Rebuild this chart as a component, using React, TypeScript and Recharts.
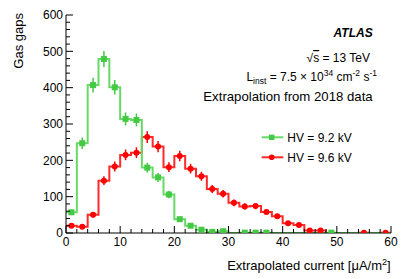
import {
  ComposedChart,
  Line,
  Scatter,
  ErrorBar,
  XAxis,
  YAxis,
  Legend,
  Customized,
} from "recharts";

// bin centres of the 2 µA/m² wide bins
const binCenters = [
  1, 3, 5, 7, 9, 11, 13, 15, 17, 19, 21, 23, 25, 27, 29, 31, 33, 35, 37, 39,
  41, 43, 45, 47, 49, 51, 53, 55, 57, 59,
];
const hv92 = [
  57, 247, 407, 479, 401, 314, 311, 180, 153, 106, 38, 20, 9, 3, 5, 0, 1, 1, 1,
  0, 0, 0, 0, 0, 1, 0, 0, 0, 0, 0,
];
const hv96 = [
  20, 17, 50, 144, 183, 215, 221, 264, 238, 181, 212, 177, 156, 121, 108, 83,
  73, 74, 58, 46, 27, 22, 7, 7, 0, 0, 0, 1, 0, 1,
];
const xTicks = [
  0, 2, 4, 6, 8, 10, 12, 14, 16, 18, 20, 22, 24, 26, 28, 30, 32, 34, 36, 38, 40,
  42, 44, 46, 48, 50, 52, 54, 56, 58, 60,
];
const yTicks = [
  0, 20, 40, 60, 80, 100, 120, 140, 160, 180, 200, 220, 240, 260, 280, 300, 320,
  340, 360, 380, 400, 420, 440, 460, 480, 500, 520, 540, 560, 580, 600,
];

const GREEN_LINE = "#66d966";
const GREEN = "#44c944";
const RED_LINE = "#ff2a2a";
const RED = "#ff0000";
const FONT = "'Liberation Sans', Arial, Helvetica, sans-serif";

const legendItems = [
  { name: "HV = 9.2 kV", line: GREEN_LINE, color: GREEN, marker: "square" },
  { name: "HV = 9.6 kV", line: RED_LINE, color: RED, marker: "circle" },
];

const binWidth = 2;
const stepData = (vals: number[]) => [
  ...vals.map((v, i) => ({ x: binCenters[i] - binWidth / 2, y: v })),
  { x: binCenters[vals.length - 1] + binWidth / 2, y: vals[vals.length - 1] },
];
const pointData = (vals: number[]) =>
  vals
    .map((v, i) => ({ x: binCenters[i], y: v, err: Math.sqrt(v) }))
    .filter((d) => d.y > 0);

const isMajorX = (v: number) => v % 10 === 0;
const isMajorY = (v: number) => v % 100 === 0;

function BottomTick(props: any) {
  const { x, y, payload } = props;
  const major = isMajorX(payload.value);
  return (
    <g>
      <line x1={x} y1={y} x2={x} y2={y - (major ? 7 : 4)} stroke="#000" />
      {major && (
        <text x={x} y={y + 13} textAnchor="middle" fontSize={12} fontFamily={FONT} fill="#000">
          {payload.value}
        </text>
      )}
    </g>
  );
}

function TopTick(props: any) {
  const { x, y, payload } = props;
  const major = isMajorX(payload.value);
  return <line x1={x} y1={y} x2={x} y2={y + (major ? 7 : 4)} stroke="#000" />;
}

function LeftTick(props: any) {
  const { x, y, payload } = props;
  const major = isMajorY(payload.value);
  return (
    <g>
      <line x1={x} y1={y} x2={x + (major ? 7 : 4)} y2={y} stroke="#000" />
      {major && (
        <text x={x - 3} y={y + 4.2} textAnchor="end" fontSize={12} fontFamily={FONT} fill="#000">
          {payload.value}
        </text>
      )}
    </g>
  );
}

function RightTick(props: any) {
  const { x, y, payload } = props;
  const major = isMajorY(payload.value);
  return <line x1={x} y1={y} x2={x - (major ? 7 : 4)} y2={y} stroke="#000" />;
}

const SquareDot = (props: any) => {
  const { cx, cy } = props;
  return <rect x={cx - 3} y={cy - 3} width={6} height={6} fill={GREEN} />;
};
const RoundDot = (props: any) => {
  const { cx, cy } = props;
  return <circle cx={cx} cy={cy} r={3} fill={RED} />;
};

function LegendBox() {
  return (
    <svg width={140} height={42} style={{ display: "block" }}>
      {legendItems.map((it, i) => {
        const y = 10.3 + i * 20;
        return (
          <g key={it.name}>
            <line x1={6.7} y1={y} x2={28.3} y2={y} stroke={it.line} strokeWidth={2} />
            {it.marker === "square" ? (
              <rect x={14} y={y - 2.7} width={5.4} height={5.4} fill={it.color} />
            ) : (
              <circle cx={16.7} cy={y} r={2.8} fill={it.color} />
            )}
            <text x={32.3} y={y + 4.2} fontSize={12} fontFamily={FONT} fill="#000">
              {it.name}
            </text>
          </g>
        );
      })}
    </svg>
  );
}

function Labels() {
  const t = { fontFamily: FONT, fontSize: 12, fill: "#000" };
  return (
    <g>
      <text x={372.7} y={37} textAnchor="end" {...t} fontWeight="bold" fontStyle="italic">
        ATLAS
      </text>
      <text x={370} y={62} textAnchor="end" {...t}>
        √<tspan textDecoration="overline">s</tspan> = 13 TeV
      </text>
      <text x={377} y={81} textAnchor="end" {...t}>
        L
        <tspan fontSize={8.5} dy={3}>
          inst
        </tspan>
        <tspan dy={-3}> = 7.5 × 10</tspan>
        <tspan fontSize={8.5} dy={-5}>
          34
        </tspan>
        <tspan dy={5}> cm</tspan>
        <tspan fontSize={8.5} dy={-5}>
          -2
        </tspan>
        <tspan dy={5}> s</tspan>
        <tspan fontSize={8.5} dy={-5}>
          -1
        </tspan>
      </text>
      <text x={372.7} y={100.7} textAnchor="end" {...t} fontSize={13.2}>
        Extrapolation from 2018 data
      </text>
      <text x={390.7} y={270} textAnchor="end" {...t} fontSize={13}>
        Extrapolated current [μA/m
        <tspan fontSize={9} dy={-5}>
          2
        </tspan>
        <tspan dy={5}>]</tspan>
      </text>
      <text
        x={0}
        y={0}
        textAnchor="end"
        transform="translate(23,13) rotate(-90)"
        {...t}
        fontSize={13}
      >
        Gas gaps
      </text>
    </g>
  );
}

export default function App() {
  return (
    <div style={{ position: "absolute", left: 0, top: 0, background: "#fff" }}>
      <ComposedChart
        width={411}
        height={279}
        margin={{ top: 15, right: 20, bottom: 0, left: 0 }}
      >
        <XAxis
          dataKey="x"
          type="number"
          domain={[0, 60]}
          ticks={xTicks}
          interval={0}
          allowDataOverflow
          height={46}
          tickSize={0}
          tickMargin={0}
          tickLine={false}
          axisLine={{ stroke: "#000" }}
          tick={(p: any) => <BottomTick {...p} />}
        />
        <XAxis
          xAxisId="top"
          orientation="top"
          dataKey="x"
          type="number"
          domain={[0, 60]}
          ticks={xTicks}
          interval={0}
          allowDataOverflow
          height={0}
          tickSize={0}
          tickMargin={0}
          tickLine={false}
          axisLine={{ stroke: "#000" }}
          tick={(p: any) => <TopTick {...p} />}
        />
        <YAxis
          type="number"
          domain={[0, 600]}
          ticks={yTicks}
          interval={0}
          allowDataOverflow
          width={66}
          tickSize={0}
          tickMargin={0}
          tickLine={false}
          axisLine={{ stroke: "#000" }}
          tick={(p: any) => <LeftTick {...p} />}
        />
        <YAxis
          yAxisId="right"
          orientation="right"
          type="number"
          domain={[0, 600]}
          ticks={yTicks}
          interval={0}
          allowDataOverflow
          width={0}
          tickSize={0}
          tickMargin={0}
          tickLine={false}
          axisLine={{ stroke: "#000" }}
          tick={(p: any) => <RightTick {...p} />}
        />
        <Line
          data={stepData(hv96)}
          dataKey="y"
          type="stepAfter"
          stroke={RED_LINE}
          strokeWidth={2}
          dot={false}
          name="HV = 9.6 kV"
          isAnimationActive={false}
          legendType="none"
        />
        <Line
          data={stepData(hv92)}
          dataKey="y"
          type="stepAfter"
          stroke={GREEN_LINE}
          strokeWidth={2}
          dot={false}
          name="HV = 9.2 kV"
          isAnimationActive={false}
          legendType="none"
        />
        <Scatter
          data={pointData(hv96)}
          dataKey="y"
          shape={RoundDot}
          isAnimationActive={false}
          legendType="none"
        >
          <ErrorBar dataKey="err" direction="y" width={0} stroke={RED} strokeWidth={1.5} />
        </Scatter>
        <Scatter
          data={pointData(hv92)}
          dataKey="y"
          shape={SquareDot}
          isAnimationActive={false}
          legendType="none"
        >
          <ErrorBar dataKey="err" direction="y" width={0} stroke={GREEN} strokeWidth={1.5} />
        </Scatter>
        <Legend
          layout="vertical"
          align="center"
          verticalAlign="middle"
          wrapperStyle={{ left: 255, top: 127, width: 140 }}
          content={() => <LegendBox />}
        />
        <Customized component={<Labels />} />
      </ComposedChart>
    </div>
  );
}
